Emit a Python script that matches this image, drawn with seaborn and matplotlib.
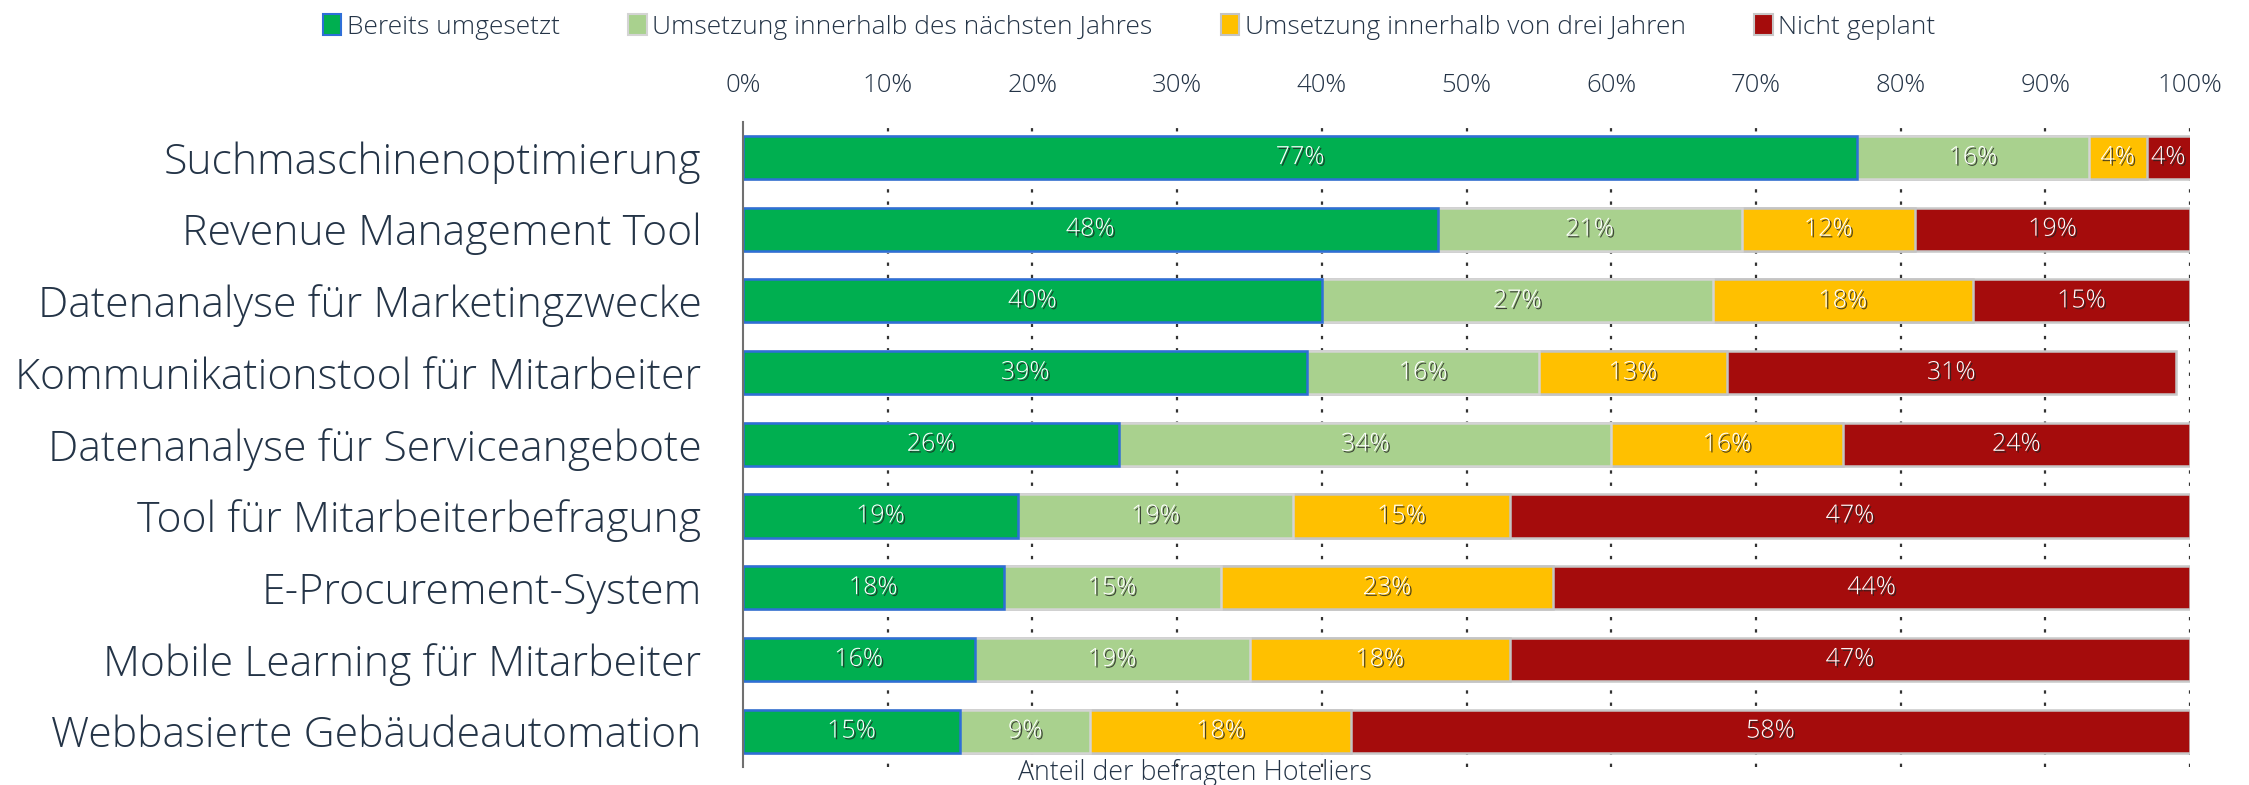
import numpy as np
import pandas as pd
import matplotlib
matplotlib.use("Agg")
import matplotlib.pyplot as plt
import matplotlib.patheffects as pe
import seaborn as sns

# data
categories = [
    "Suchmaschinenoptimierung",
    "Revenue Management Tool",
    "Datenanalyse für Marketingzwecke",
    "Kommunikationstool für Mitarbeiter",
    "Datenanalyse für Serviceangebote",
    "Tool für Mitarbeiterbefragung",
    "E-Procurement-System",
    "Mobile Learning für Mitarbeiter",
    "Webbasierte Gebäudeautomation",
]
bereits = [77, 48, 40, 39, 26, 19, 18, 16, 15]
naechstes_jahr = [16, 21, 27, 16, 34, 19, 15, 19, 9]
drei_jahre = [4, 12, 18, 13, 16, 15, 23, 18, 18]
nicht_geplant = [4, 19, 15, 31, 24, 47, 44, 47, 58]

series_names = ["Bereits umgesetzt", "Umsetzung innerhalb des nächsten Jahres",
                "Umsetzung innerhalb von drei Jahren", "Nicht geplant"]
series_vals = [bereits, naechstes_jahr, drei_jahre, nicht_geplant]
colors = ["#00AF50", "#A9D18E", "#FFC000", "#A50C0C"]
edges = ["#2E6FD8", "#D4D4D4", "#C4C4C4", "#C8C8C8"]

sns.set_style("white")
plt.rcParams["font.family"] = ["Open Sans", "DejaVu Sans"]
plt.rcParams["font.weight"] = "light"
text_col = "#243447"

df = pd.DataFrame({"Kategorie": categories})
for name, vals in zip(series_names, series_vals):
    df[name] = vals
cum = df[series_names].cumsum(axis=1)

fig = plt.figure(figsize=(22.49, 7.85), dpi=100)
ax = fig.add_axes([0.3304, 0.023, 0.6434, 0.822])

# stacked bars: draw cumulative totals from the back to the front
for i in range(len(series_names) - 1, -1, -1):
    sns.barplot(x=cum[series_names[i]], y=df["Kategorie"], orient="h",
                color=colors[i], edgecolor=edges[i], linewidth=1.8,
                width=0.6, saturation=1, ax=ax, zorder=2)

# value labels
for i, name in enumerate(series_names):
    right = cum[name].values
    vals = df[name].values
    for j, (r, v) in enumerate(zip(right, vals)):
        xc = r - v / 2 if r <= 100 else (r - v + 100) / 2
        t = ax.text(xc, j, f"{v}%", ha="center", va="center", color="white",
                    fontsize=18, zorder=5)
        t.set_path_effects([pe.SimplePatchShadow(offset=(1.2, -1.2), shadow_rgbFace="#222222", alpha=0.8),
                            pe.Normal()])

ax.set_xlim(0, 100)
ax.set_ylim(8.5, -0.5)
ax.set_xticks(np.arange(0, 101, 10))
ax.set_xticklabels([f"{p}%" for p in range(0, 101, 10)])
ax.xaxis.tick_top()
ax.tick_params(axis="x", length=0, pad=17, labelsize=18.5, labelcolor=text_col)
ax.tick_params(axis="y", length=0, pad=30, labelsize=30.8, labelcolor=text_col)
ax.set_xlabel("")
ax.set_ylabel("")

for x in range(10, 101, 10):
    ax.axvline(x, color="#333333", linestyle=(0, (1.5, 4)), linewidth=1.6, zorder=1)

for s in ["top", "right", "bottom"]:
    ax.spines[s].set_visible(False)
ax.spines["left"].set_color("#707070")
ax.spines["left"].set_linewidth(1.5)

ax.text(0.3125, -0.009, "Anteil der befragten Hoteliers", transform=ax.transAxes,
        ha="center", va="center", fontsize=19.3, color=text_col)

handles = [plt.Rectangle((0, 0), 1, 1, facecolor=c, edgecolor=e, linewidth=1.5)
           for c, e in zip(colors, edges)]
fig.legend(handles, series_names, loc="upper center", bbox_to_anchor=(0.502, 1.012),
           ncol=4, frameon=False, fontsize=19, labelcolor=text_col,
           handlelength=0.7, handleheight=0.8, handletextpad=0.2, columnspacing=2.6)

fig.savefig("out.png", dpi=100)
